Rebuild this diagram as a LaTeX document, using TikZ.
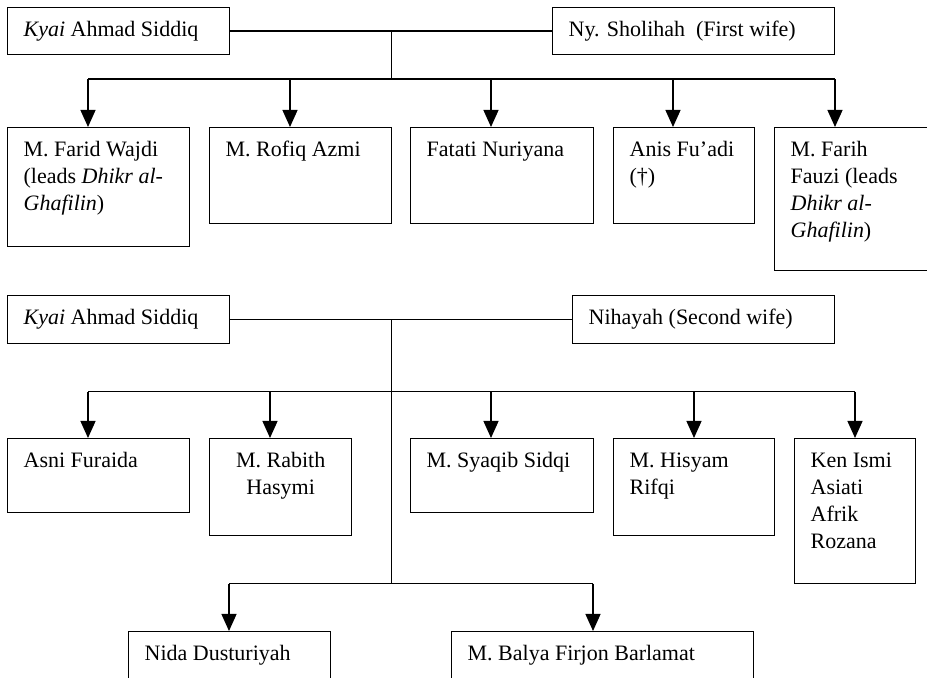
\documentclass[tikz,border=0pt]{standalone}
\usepackage{fontspec}
\setmainfont{Liberation Serif}
\usetikzlibrary{arrows.meta,calc}

% box text: width, height (in px of the picture), contents
\newcommand{\cell}[3]{\parbox[t][\dimexpr#2pt/2-10pt\relax][t]{\dimexpr#1pt/2-16pt\relax}{\raggedright\strut#3}}

\tikzset{
  person/.style={draw, anchor=north west, inner xsep=8pt, inner ysep=5pt,
    font=\fontsize{11pt}{13.5pt}\selectfont},
  kid/.style={-{Triangle[width=7.5pt,length=8.5pt]}}
}

\begin{document}
\begin{tikzpicture}[x=0.5pt, y=-0.5pt, line width=0.65pt]
\useasboundingbox (0,0) rectangle (927,678);

% first marriage
\node[person] (a1) at (7,7) {\cell{222}{47}{\textit{Kyai} Ahmad Siddiq}};
\node[person] (w1) at (552,7) {\cell{282}{47}{Ny. Sholihah\ \ (First wife)}};

% children of the first wife
\node[person] (c1) at (7,127) {\cell{182}{119}{M. Farid Wajdi\\(leads \textit{Dhikr al-}\\\textit{Ghafilin})}};
\node[person] (c2) at (209,127) {\cell{182}{96}{M. Rofiq Azmi}};
\node[person] (c3) at (410,127) {\cell{183}{96}{Fatati Nuriyana}};
\node[person] (c4) at (613,127) {\cell{141}{96}{Anis Fu’adi\\(†)}};
\node[person] (c5) at (774,127) {\cell{170}{143}{M. Farih\\Fauzi (leads\\\textit{Dhikr al-}\\\textit{Ghafilin})}};

\draw (a1) -- (w1);
\coordinate (m1) at ($(a1.east)!.5!(w1.west)$);
\coordinate (b1) at ($(m1)+(0,48)$);
\draw (m1) -- (b1);
\draw ($(c1.north west |- b1)+(81,0)$) -- ($(c5.north west |- b1)+(61,0)$);
\foreach \k/\dx in {c1/81, c2/81, c3/81, c4/60, c5/61}
  \draw[kid] ($(\k.north west |- b1)+(\dx,0)$) -- ($(\k.north west)+(\dx,0)$);

% second marriage
\node[person] (a2) at (7,295) {\cell{222}{48}{\textit{Kyai} Ahmad Siddiq}};
\node[person] (w2) at (572,295) {\cell{262}{48}{Nihayah (Second wife)}};

% children of the second wife
\node[person] (d1) at (7,438) {\cell{182}{74}{Asni Furaida}};
\node[person] (d2) at (209,438) {\cell{142}{97}{\centering M. Rabith\\Hasymi}};
\node[person] (d3) at (410,438) {\cell{183}{74}{M. Syaqib Sidqi}};
\node[person] (d4) at (613,438) {\cell{161}{97}{M. Hisyam\\Rifqi}};
\node[person] (d5) at (794,438) {\cell{121}{145}{Ken Ismi\\Asiati\\Afrik\\Rozana}};
\node[person] (e1) at (128,631) {\cell{202}{80}{Nida Dusturiyah}};
\node[person] (e2) at (451,631) {\cell{302}{80}{M. Balya Firjon Barlamat}};

\draw (a2) -- (w2);
\coordinate (m2) at (a2.east -| m1);
\coordinate (b2) at ($(m2)+(0,72)$);
\coordinate (b3) at ($(m2)+(0,264)$);
\draw (m2) -- (b3);
\draw ($(d1.north west |- b2)+(81,0)$) -- ($(d5.north west |- b2)+(61,0)$);
\foreach \k/\dx in {d1/81, d2/61, d3/81, d4/81, d5/61}
  \draw[kid] ($(\k.north west |- b2)+(\dx,0)$) -- ($(\k.north west)+(\dx,0)$);
\draw ($(e1.north west |- b3)+(101,0)$) -- ($(e2.north west |- b3)+(142,0)$);
\foreach \k/\dx in {e1/101, e2/142}
  \draw[kid] ($(\k.north west |- b3)+(\dx,0)$) -- ($(\k.north west)+(\dx,0)$);

\end{tikzpicture}
\end{document}
